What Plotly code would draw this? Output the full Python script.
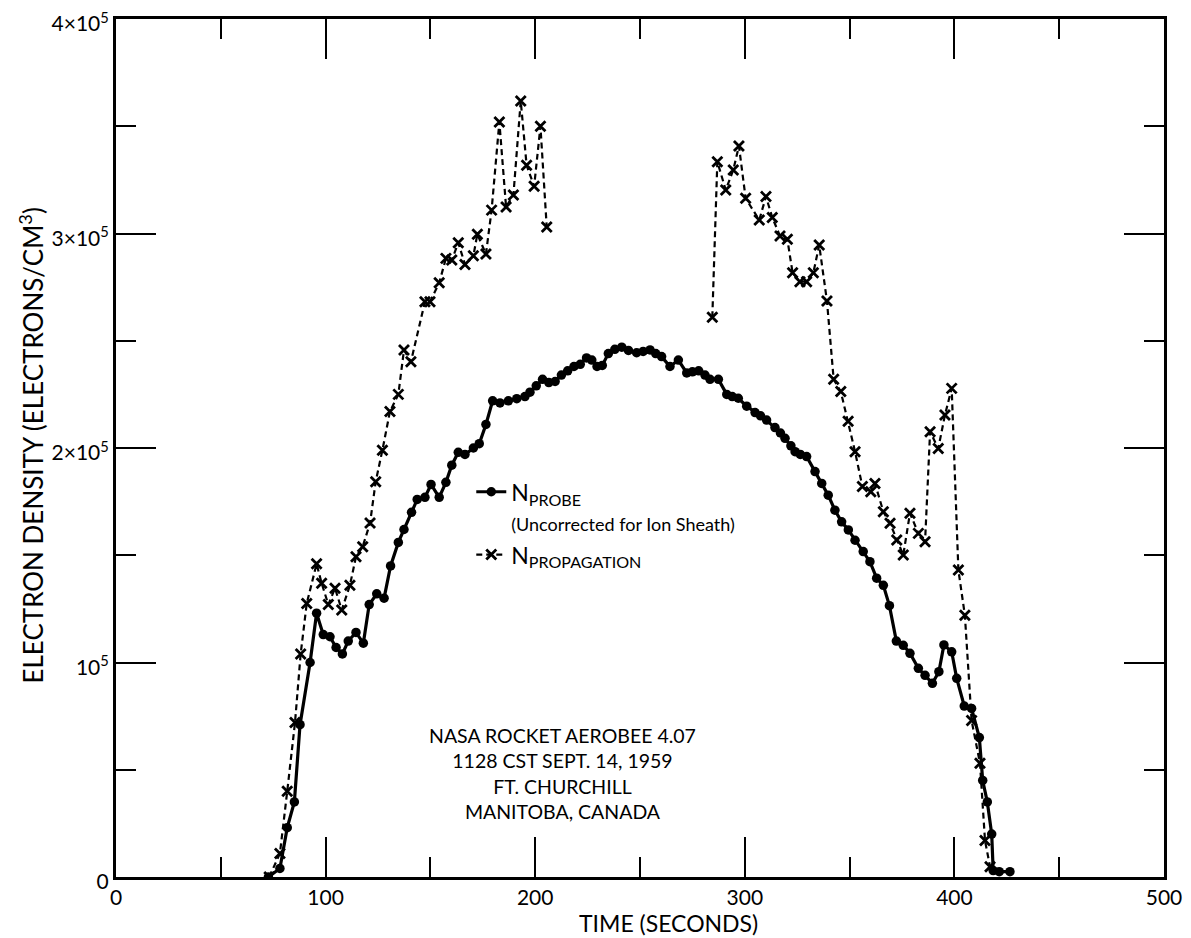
import plotly.graph_objects as go

# ---- data (time in seconds, density in electrons/cm^3) ----
probe_t = [72.7, 78.2, 81.7, 85.1, 87.8, 92.6, 95.7, 98.9, 102.1, 105.0, 108.0, 110.8,
           114.5, 118.0, 120.8, 124.4, 127.9, 131.0, 134.7, 137.4, 141.0, 143.7, 147.4,
           150.3, 154.2, 157.4, 160.2, 163.3, 166.5, 170.5, 173.3, 176.5, 179.7, 183.2,
           187.2, 191.2, 195.1, 197.5, 200.5, 203.5, 206.5, 209.5, 212.5, 215.5, 218.5,
           221.5, 224.5, 227.0, 229.5, 232.0, 234.9, 238.0, 241.3, 244.5, 248.4, 251.5,
           254.8, 257.5, 260.3, 264.3, 268.3, 272.3, 275.0, 278.0, 281.0, 283.4, 287.4,
           291.4, 294.0, 296.9, 300.9, 304.9, 307.5, 310.4, 314.4, 317.0, 319.2, 322.0,
           324.0, 326.5, 329.5, 333.5, 336.7, 339.8, 343.0, 346.2, 349.4, 352.6, 356.5,
           359.7, 362.9, 366.1, 369.0, 372.3, 375.6, 378.8, 382.8, 386.0, 389.5, 392.6,
           395.0, 398.7, 401.1, 404.7, 408.2, 411.9, 413.5, 415.7, 417.8, 418.5, 421.4,
           426.5]
probe_n = [0, 4e3, 23e3, 35e3, 71e3, 100e3, 123e3, 113e3, 112e3, 107e3, 104e3, 110e3,
           114e3, 109e3, 127e3, 132e3, 130e3, 145e3, 156e3, 162e3, 170e3, 176e3, 177e3,
           183e3, 177e3, 184e3, 192e3, 198e3, 197e3, 200e3, 202e3, 211e3, 222e3, 221e3,
           222e3, 223e3, 224e3, 226e3, 229e3, 232e3, 230.5e3, 231e3, 234e3, 236e3, 238e3,
           239e3, 242e3, 241e3, 238e3, 238.5e3, 244e3, 246e3, 247e3, 245.5e3, 244.4e3, 245e3,
           245.7e3, 244e3, 242.6e3, 238e3, 241e3, 235e3, 235.5e3, 236e3, 234e3, 232e3, 232e3,
           225e3, 224e3, 223.2e3, 219.5e3, 216.5e3, 215e3, 213e3, 209.5e3, 207e3, 204.5e3, 201e3,
           198.3e3, 197e3, 196e3, 189e3, 183.5e3, 178e3, 171e3, 165.6e3, 161.8e3, 157e3, 151.7e3,
           147e3, 139.3e3, 136e3, 126.5e3, 110e3, 108e3, 104.3e3, 97.3e3, 94e3, 90.3e3, 95.7e3,
           108.2e3, 105e3, 92.6e3, 79.7e3, 78.6e3, 65e3, 45e3, 35e3, 20e3, 3e3, 2.5e3,
           2.5e3]

prop_t_up = [73.1, 78.2, 81.7, 85.4, 88.1, 91.0, 95.7, 98.1, 101.3, 104.5, 107.7, 111.6,
             114.5, 117.7, 121.2, 123.9, 127.1, 130.7, 134.7, 137.4, 140.7, 147.4, 149.8,
             154.2, 157.4, 160.2, 163.3, 166.5, 170.5, 172.4, 176.5, 179.2, 182.9, 186.1,
             189.6, 193.1, 195.9, 199.5, 202.5, 205.5]
prop_n_up = [0, 11e3, 40e3, 72e3, 104e3, 127.5e3, 146e3, 137e3, 127e3, 134.6e3, 124.5e3, 136e3,
             149.3e3, 154e3, 165e3, 184.3e3, 199e3, 217e3, 225e3, 245.7e3, 240.2e3, 268.2e3, 268.2e3,
             277e3, 288.4e3, 287.6e3, 295.7e3, 285.6e3, 289.6e3, 299.7e3, 290.4e3, 310.9e3, 352e3, 312.4e3,
             317.9e3, 361.8e3, 331.8e3, 322e3, 350e3, 303e3]

prop_t_down = [284.5, 286.9, 290.9, 294.5, 297.2, 300.4, 306.9, 310.1, 313.1, 316.8, 320.3,
               322.8, 326.3, 329.5, 332.7, 335.5, 339.2, 342.4, 345.8, 349.3, 352.6, 356.1,
               360.1, 362.1, 366.1, 369.3, 372.5, 375.6, 378.8, 382.8, 386.0, 388.4, 392.3,
               395.5, 398.7, 401.9, 405.0, 408.2, 412.2, 414.6, 417.0]
prop_n_down = [261e3, 333.5e3, 320.3e3, 329.6e3, 340.8e3, 316.4e3, 306.3e3, 317.2e3, 307.5e3, 298.8e3, 297.3e3,
               281.7e3, 277.5e3, 277.5e3, 281.7e3, 294.6e3, 268.5e3, 232e3, 226.3e3, 212.5e3, 198.3e3, 182e3,
               179.6e3, 183.5e3, 170.3e3, 164.9e3, 157.1e3, 150.1e3, 169.6e3, 160.2e3, 156.3e3, 207.6e3, 199.8e3,
               215.4e3, 227.8e3, 143.1e3, 122e3, 73e3, 53e3, 17e3, 4.8e3]

x_tickvals = [0, 100, 200, 300, 400, 500]
x_ticktext = ["0", "100", "200", "300", "400", "500"]
y_tickvals = [0, 1e5, 2e5, 3e5, 4e5]
y_ticktext = ["0", "10<sup>5</sup>", "2×10<sup>5</sup>", "3×10<sup>5</sup>", "4×10<sup>5</sup>"]

note_lines = ["NASA ROCKET AEROBEE 4.07", "1128 CST SEPT. 14, 1959",
              "FT. CHURCHILL", "MANITOBA, CANADA"]
x_title = "TIME (SECONDS)"
y_title = "ELECTRON DENSITY (ELECTRONS/CM<sup>3</sup>)"

FONT = "Lato"

prop_t = prop_t_up + [None] + prop_t_down
prop_n = prop_n_up + [None] + prop_n_down

fig = go.Figure()
fig.add_trace(go.Scatter(
    x=probe_t, y=probe_n, mode="lines+markers",
    name="N<sub>PROBE</sub><br><span style='font-size:18px'>(Uncorrected for Ion Sheath)</span>",
    line=dict(color="black", width=3.2),
    marker=dict(symbol="circle", size=9.5, color="black"),
))
fig.add_trace(go.Scatter(
    x=prop_t, y=prop_n, mode="lines+markers", connectgaps=False,
    name="N<sub>PROPAGATION</sub>",
    line=dict(color="black", width=2.2, dash="6px,4px"),
    marker=dict(symbol="x-thin", size=10, color="black",
                line=dict(color="black", width=2.8)),
))

fig.add_annotation(
    x=0.4256, y=0.121, xref="paper", yref="paper", xanchor="center", yanchor="middle",
    text="<br>".join(note_lines), showarrow=False, align="center",
    font=dict(family=FONT, size=19.5, color="black"),
)
# axis titles
fig.add_annotation(
    x=0.527, y=-0.054, xref="paper", yref="paper", xanchor="center", yanchor="middle",
    text=x_title, showarrow=False, font=dict(family=FONT, size=23, color="black"),
)
fig.add_annotation(
    x=-0.081, y=0.503, xref="paper", yref="paper", xanchor="center", yanchor="middle",
    text=y_title, textangle=-90, showarrow=False,
    font=dict(family=FONT, size=26, color="black"),
)

axis_common = dict(
    showline=True, linecolor="black", linewidth=3, mirror="ticks",
    ticks="inside", tickcolor="black", tickwidth=2, ticklen=40,
    showgrid=False, zeroline=False, automargin=False, ticklabeloverflow="allow",
    tickfont=dict(family=FONT, size=21, color="black"),
)

# page body has an 8px margin, so the figure is sized/margined to land the
# plot box where the reference has it
fig.update_layout(
    width=1183, height=930,
    margin=dict(l=108, r=27, t=11, b=61),
    paper_bgcolor="white", plot_bgcolor="white",
    font=dict(family=FONT, color="black"),
    showlegend=True,
    legend=dict(
        x=0.339, y=0.474, xanchor="left", yanchor="top",
        bgcolor="rgba(0,0,0,0)", borderwidth=0,
        font=dict(family=FONT, size=23, color="black"),
        valign="top", tracegroupgap=8,
    ),
    xaxis=dict(
        range=[0, 500], tickvals=x_tickvals, ticktext=x_ticktext,
        minor=dict(tickvals=[50, 150, 250, 350, 450], ticks="inside", ticklen=20,
                   tickwidth=2, tickcolor="black", showgrid=False),
        **axis_common,
    ),
    yaxis=dict(
        range=[0, 4e5], tickvals=y_tickvals, ticktext=y_ticktext,
        minor=dict(tickvals=[0.5e5, 1.5e5, 2.5e5, 3.5e5], ticks="inside", ticklen=20,
                   tickwidth=2, tickcolor="black", showgrid=False),
        ticklabelshift=5,
        **axis_common,
    ),
)

fig.write_html("out.html")
